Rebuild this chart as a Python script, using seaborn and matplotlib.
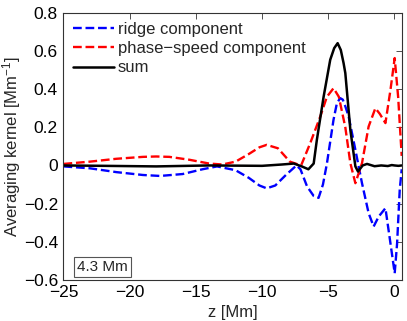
import matplotlib
matplotlib.use('Agg')
import matplotlib.pyplot as plt
import seaborn as sns

# values
z_ridge = [-25, -23, -21, -19, -17.7, -16, -14.5, -13.4, -12, -11, -10.2, -9.65, -9, -8.2,
           -7.4, -7.1, -6.6, -6.1, -5.73, -5.4, -5.1, -4.6, -4.35, -4.1, -3.9, -3.71, -3.46,
           -2.95, -2.45, -1.95, -1.57, -1.19, -0.68, -0.3, 0.02, 0.2, 0.4, 0.55]
v_ridge = [-0.005, -0.015, -0.035, -0.05, -0.055, -0.045, -0.02, -0.005, -0.025, -0.065,
           -0.105, -0.12, -0.105, -0.05, 0.0, -0.02, -0.11, -0.16, -0.17, -0.1, 0.01,
           0.24, 0.325, 0.353, 0.345, 0.31, 0.257, 0.082, -0.093, -0.25, -0.32, -0.268,
           -0.224, -0.408, -0.565, -0.41, -0.128, -0.02]

z_phase = [-25, -23, -21, -19, -18, -17, -15.5, -14, -13, -12, -11, -10.2, -9.65, -8.8,
           -7.9, -7.05, -6.36, -5.6, -5.1, -4.6, -4.2, -3.71, -3.33, -2.95, -2.45, -1.95,
           -1.44, -1.1, -0.68, -0.3, 0.02, 0.28, 0.55]
v_phase = [0.008, 0.02, 0.035, 0.045, 0.047, 0.045, 0.03, 0.01, 0.005, 0.02, 0.06, 0.095,
           0.108, 0.09, 0.02, 0.0, 0.117, 0.257, 0.36, 0.405, 0.36, 0.2, 0.012, -0.093,
           0.012, 0.204, 0.30, 0.27, 0.222, 0.396, 0.563, 0.36, 0.05]

z_sum = [-25, -22, -18, -14, -10, -8.5, -7.6, -7.0, -6.5, -6.1, -5.86, -5.35, -4.85, -4.55,
         -4.29, -4.05, -3.84, -3.71, -3.33, -2.95, -2.75, -2.4, -2.07, -1.5, -1.0, -0.5,
         -0.2, 0.0, 0.3, 0.55]
v_sum = [0.0, -0.002, -0.005, 0.0, -0.002, 0.005, 0.01, -0.005, -0.02, 0.01, 0.134, 0.36,
         0.554, 0.615, 0.641, 0.605, 0.536, 0.484, 0.187, -0.005, -0.032, 0.0, 0.008,
         -0.004, 0.0, -0.003, 0.002, 0.0, -0.002, 0.0]

xtick_vals = [-25, -20, -15, -10, -5, 0]
xtick_labels = ['\u221225', '\u221220', '\u221215', '\u221210', '\u22125', '0']
ytick_vals = [-0.6, -0.4, -0.2, 0, 0.2, 0.4, 0.6, 0.8]
ytick_labels = ['\u22120.6', '\u22120.4', '\u22120.2', '0', '0.2', '0.4', '0.6', '0.8']

sns.set_style('white')
plt.rcParams['font.family'] = ['Liberation Sans', 'DejaVu Sans']
plt.rcParams['mathtext.fontset'] = 'custom'
plt.rcParams['mathtext.rm'] = 'Liberation Sans'
plt.rcParams['mathtext.it'] = 'Liberation Sans:italic'

fig = plt.figure(figsize=(4.07, 3.21), dpi=100)
ax = fig.add_axes([0.156, 0.128, 0.831, 0.832])

sns.lineplot(x=z_ridge, y=v_ridge, ax=ax, color='#0000ff', lw=1.7, linestyle='--',
             dashes=(3, 1.6), label='ridge component', sort=False)
sns.lineplot(x=z_phase, y=v_phase, ax=ax, color='#ff0000', lw=1.7, linestyle='--',
             dashes=(3, 1.6), label='phase\u2212speed component', sort=False)
sns.lineplot(x=z_sum, y=v_sum, ax=ax, color='black', lw=1.8, label='sum', sort=False)

ax.set_xlim(-25, 0.55)
ax.set_ylim(-0.6, 0.8)
ax.set_xticks(xtick_vals)
ax.set_xticklabels(xtick_labels)
ax.set_yticks(ytick_vals)
ax.set_yticklabels(ytick_labels)
ax.tick_params(direction='in', top=True, right=True, length=4, width=0.6,
               labelsize=12.5, pad=4, colors='#333333', labelcolor='black')
for s in ax.spines.values():
    s.set_linewidth(0.8)
    s.set_color('#333333')

ax.set_xlabel('z [Mm]', fontsize=12, labelpad=3)
ax.set_ylabel('Averaging kernel [Mm$^{\\mathregular{-1}}$]', fontsize=12)
ax.yaxis.set_label_coords(-0.12, 0.5)

leg = ax.legend(loc='upper left', frameon=False, fontsize=12, handlelength=2.5,
                handletextpad=0.2, labelspacing=0.25, borderaxespad=0.15,
                bbox_to_anchor=(0.0, 1.0))

ax.text(0.04, 0.035, '4.3 Mm', transform=ax.transAxes, fontsize=11,
        bbox=dict(boxstyle='square,pad=0.2', fc='white', ec='#555555', lw=0.8))

fig.savefig('out.png', dpi=100)
